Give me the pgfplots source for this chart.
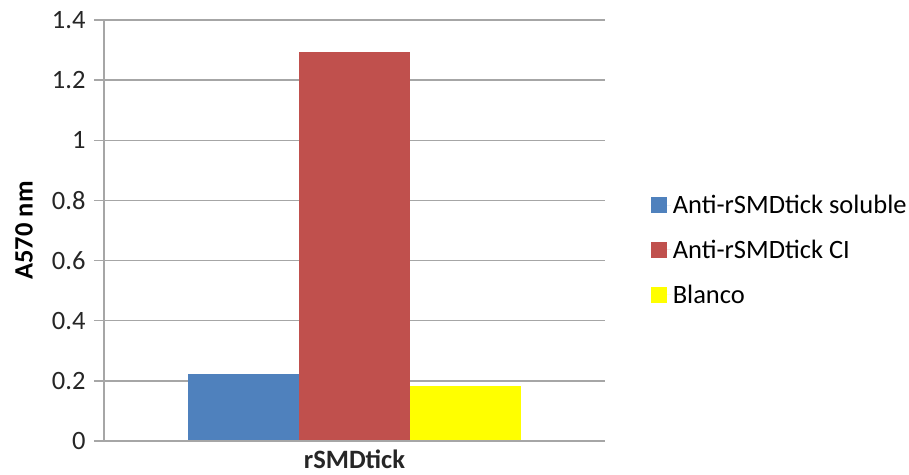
\documentclass[border=0pt]{standalone}
\usepackage{pgfplots}
\pgfplotsset{compat=1.18}
\usepackage{fontspec}
\setmainfont{Carlito}
\definecolor{barblue}{HTML}{4F81BD}
\definecolor{barred}{HTML}{C0504D}
\definecolor{baryellow}{HTML}{FFFF00}
\definecolor{gridgray}{HTML}{A6A6A6}
\begin{document}
\begin{tikzpicture}
% overall canvas
\path[use as bounding box] (-104pt,-33pt) rectangle (805pt,441pt);
\begin{axis}[
  at={(0pt,0pt)}, anchor=south west,
  scale only axis,
  width=501pt, height=421pt,
  ybar=0pt, bar width=111pt,
  xmin=-1, xmax=1,
  ymin=0, ymax=1.4,
  xtick={0}, xticklabels={\textbf{rSMDtick}},
  ytick={0,0.2,...,1.4},
  yticklabel style={/pgf/number format/fixed, /pgf/number format/precision=1},
  /pgf/number format/assume math mode=true,
  ymajorgrids, grid style={gridgray, line width=1.5pt},
  axis x line*=bottom, axis y line*=left,
  axis line style={gridgray, line width=1.5pt, -},
  x axis line style={draw=none},
  major x tick style={draw=none},
  ytick style={gridgray, line width=1.5pt},
  tick align=outside, major tick length=10pt,
  ticklabel style={font=\fontsize{26.5}{30}\selectfont, text=black!85},
  yticklabel style={xshift=-5pt},
  xticklabel style={yshift=5pt},
  ylabel={\textbf{A570 nm}},
  every axis y label/.style={at={(rel axis cs:0,0.5)}, rotate=90, anchor=center,
    yshift=80pt, font=\fontsize{26.5}{30}\selectfont, text=black},
  legend style={draw=none, fill=none, at={(1.085,0.4537)}, anchor=west,
    font=\fontsize{26.5}{30}\selectfont, row sep=21pt,
    legend cell align=left},
  legend image code/.code={\fill[#1] (0pt,-8pt) rectangle (16pt,8pt);
    \path (0pt,0pt) -- (20pt,0pt);},
]
\addplot[fill=barblue, draw=none] coordinates {(0,0.222)};
\addplot[fill=barred, draw=none] coordinates {(0,1.293)};
\addplot[fill=baryellow, draw=none] coordinates {(0,0.184)};
% zero line drawn over the bars
\draw[gridgray, line width=1.5pt] (rel axis cs:0,0) -- (rel axis cs:1,0);
\legend{Anti-rSMDtick soluble, Anti-rSMDtick CI, Blanco}
\end{axis}
\end{tikzpicture}
\end{document}
